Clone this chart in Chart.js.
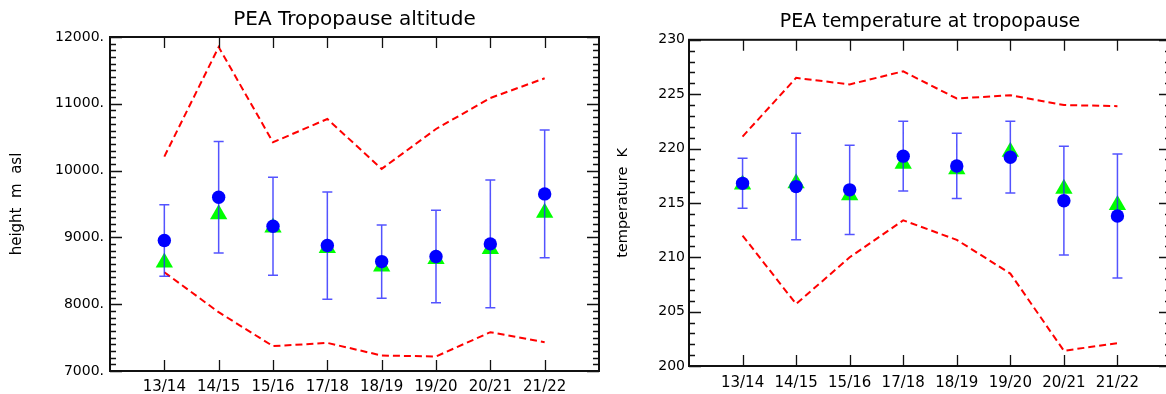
<!DOCTYPE html>
<html>
<head>
<meta charset="utf-8">
<script src="https://cdn.jsdelivr.net/npm/chart.js@4"></script>
<style>
html, body { margin: 0; padding: 0; background: #fff; overflow: hidden; width: 1166px; height: 394px; }
.box { position: absolute; top: 0; height: 394px; }
#boxAlt { left: 0; width: 602px; }
#boxTemp { left: 600px; width: 575px; }
</style>
</head>
<body>
<div class="box" id="boxAlt"><canvas id="chartAlt"></canvas></div>
<div class="box" id="boxTemp"><canvas id="chartTemp"></canvas></div>
<script>
// winters
const categories = ['13/14', '14/15', '15/16', '17/18', '18/19', '19/20', '20/21', '21/22'];

// tropopause altitude (m asl)
const altMean = [8953, 9601, 9167, 8878, 8638, 8713, 8903, 9651];
const altSd = [536, 836, 733, 803, 549, 693, 955, 955];
const altTri = [8625, 9345, 9150, 8840, 8565, 8675, 8825, 9370];
const altMax = [10210, 11850, 10424, 10773, 10025, 10623, 11087, 11382];
const altMin = [8479, 7880, 7372, 7421, 7232, 7217, 7581, 7431];
const altTicks = [7000, 8000, 9000, 10000, 11000, 12000];

// temperature at tropopause (K)
const tempMean = [216.8, 216.5, 216.2, 219.3, 218.4, 219.2, 215.2, 213.8];
const tempSd = [2.3, 4.9, 4.1, 3.2, 3.0, 3.3, 5.0, 5.7];
const tempTri = [216.7, 216.8, 215.7, 218.6, 218.1, 219.7, 216.3, 214.8];
const tempMax = [221.1, 226.5, 225.9, 227.1, 224.6, 224.9, 224.0, 223.9];
const tempMin = [212.0, 205.7, 210.0, 213.4, 211.6, 208.5, 201.4, 202.1];
const tempTicks = [200, 205, 210, 215, 220, 225, 230];

Chart.defaults.font.family = '"DejaVu Sans", sans-serif';
Chart.defaults.color = '#000';

function pts(arr) {
    return arr.map((v, i) => ({ x: i, y: v }));
}

// box round the plot with inward ticks on all four sides
const frameTicks = {
    id: 'frameTicks',
    afterDraw(chart, args, opts) {
        const { ctx, chartArea: a, scales: { x, y } } = chart;
        ctx.save();
        ctx.strokeStyle = '#111';
        ctx.lineWidth = 2;
        ctx.strokeRect(a.left, a.top, a.right - a.left, a.bottom - a.top);
        ctx.beginPath();
        categories.forEach((c, i) => {
            const px = Math.round(x.getPixelForValue(i)) + 0.5;
            ctx.moveTo(px, a.bottom); ctx.lineTo(px, a.bottom - 11);
            ctx.moveTo(px, a.top); ctx.lineTo(px, a.top + 11);
        });
        const n = Math.round((y.max - y.min) / opts.minor);
        const every = Math.round(opts.major / opts.minor);
        for (let k = 0; k <= n; k++) {
            const py = Math.round(y.getPixelForValue(y.min + k * opts.minor)) + 0.5;
            const len = k % every === 0 ? 12 : 6;
            ctx.moveTo(a.left, py); ctx.lineTo(a.left + len, py);
            ctx.moveTo(a.right, py); ctx.lineTo(a.right - len, py);
        }
        ctx.lineWidth = 1.3;
        ctx.stroke();
        ctx.restore();
    }
};

// mean +/- sd bars, drawn just under the circles
const errorBars = {
    id: 'errorBars',
    beforeDatasetDraw(chart, args, opts) {
        if (args.index !== 0) return;
        const { ctx, scales: { x, y } } = chart;
        ctx.save();
        ctx.strokeStyle = 'rgba(40, 40, 255, 0.8)';
        ctx.lineWidth = 1.5;
        ctx.beginPath();
        opts.mean.forEach((m, i) => {
            const px = x.getPixelForValue(i);
            const top = y.getPixelForValue(m + opts.sd[i]);
            const bot = y.getPixelForValue(m - opts.sd[i]);
            ctx.moveTo(px, top); ctx.lineTo(px, bot);
            ctx.moveTo(px - 5, top); ctx.lineTo(px + 5, top);
            ctx.moveTo(px - 5, bot); ctx.lineTo(px + 5, bot);
        });
        ctx.stroke();
        ctx.restore();
    }
};

function makeChart(id, cfg) {
    const ctx = document.getElementById(id).getContext('2d');
    return new Chart(ctx, {
        type: 'line',
        data: {
            datasets: [{
                data: pts(cfg.mean),
                showLine: false,
                pointStyle: 'circle',
                pointRadius: 6.7,
                backgroundColor: '#0000ff',
                borderWidth: 0
            }, {
                data: pts(cfg.tri),
                showLine: false,
                pointStyle: 'triangle',
                pointRadius: 10,
                backgroundColor: '#00ff00',
                borderWidth: 0
            }, {
                data: pts(cfg.max),
                borderColor: '#ff0000',
                borderWidth: 2,
                borderDash: [7, 4],
                pointRadius: 0,
                tension: 0
            }, {
                data: pts(cfg.min),
                borderColor: '#ff0000',
                borderWidth: 2,
                borderDash: [7, 4],
                pointRadius: 0,
                tension: 0
            }]
        },
        options: {
            responsive: true,
            maintainAspectRatio: false,
            animation: false,
            events: [],
            layout: { autoPadding: false, padding: { left: 0, right: cfg.padRight, top: 0, bottom: 0 } },
            scales: {
                x: {
                    type: 'linear',
                    min: -1,
                    max: 8,
                    // tick marks hidden, their length only pushes the labels down
                    grid: { display: false, drawTicks: true, tickLength: cfg.xPad },
                    border: { display: false },
                    afterFit: s => { s.height = cfg.xHeight; s.paddingRight = 0; },
                    ticks: {
                        stepSize: 1,
                        autoSkip: false,
                        maxRotation: 0,
                        padding: 0,
                        font: { size: 15 },
                        callback: v => categories[v] ?? ''
                    }
                },
                y: {
                    min: cfg.ticks[0],
                    max: cfg.ticks[cfg.ticks.length - 1],
                    grid: { display: false, drawTicks: false },
                    border: { display: false },
                    afterFit: s => { s.width = cfg.yWidth; s.paddingTop = 0; s.paddingBottom = 0; },
                    afterBuildTicks: s => { s.ticks = cfg.ticks.map(v => ({ value: v })); },
                    ticks: {
                        padding: cfg.yPad,
                        font: { size: 14 },
                        callback: cfg.label
                    },
                    title: {
                        display: true,
                        text: cfg.yTitle,
                        font: { size: cfg.yTitleSize },
                        padding: { top: cfg.yTitlePad, bottom: 0 }
                    }
                }
            },
            plugins: {
                legend: { display: false },
                tooltip: { enabled: false },
                title: {
                    display: true,
                    text: cfg.title,
                    fullSize: false,
                    color: '#000',
                    font: { size: cfg.titleSize, weight: 'normal' },
                    padding: { top: cfg.titleTop, bottom: cfg.titleBottom }
                },
                frameTicks: { minor: cfg.minor, major: cfg.major },
                errorBars: { mean: cfg.mean, sd: cfg.sd }
            }
        },
        plugins: [frameTicks, errorBars]
    });
}

makeChart('chartAlt', {
    title: 'PEA Tropopause altitude',
    yTitle: 'height  m  asl',
    mean: altMean, sd: altSd, tri: altTri, max: altMax, min: altMin,
    ticks: altTicks, minor: 100, major: 1000,
    label: v => v + '.',
    padRight: 3, yWidth: 110, xHeight: 23, xPad: 7, yPad: 6, yTitlePad: 8, yTitleSize: 15,
    titleSize: 20, titleTop: 8, titleBottom: 5
});

makeChart('chartTemp', {
    title: 'PEA temperature at tropopause',
    yTitle: 'temperature  K',
    mean: tempMean, sd: tempSd, tri: tempTri, max: tempMax, min: tempMin,
    ticks: tempTicks, minor: 1, major: 5,
    label: v => String(v),
    padRight: 4, yWidth: 89, xHeight: 28, xPad: 8, yPad: 4, yTitlePad: 15, yTitleSize: 14.5,
    titleSize: 19, titleTop: 11, titleBottom: 6
});
</script>
</body>
</html>
